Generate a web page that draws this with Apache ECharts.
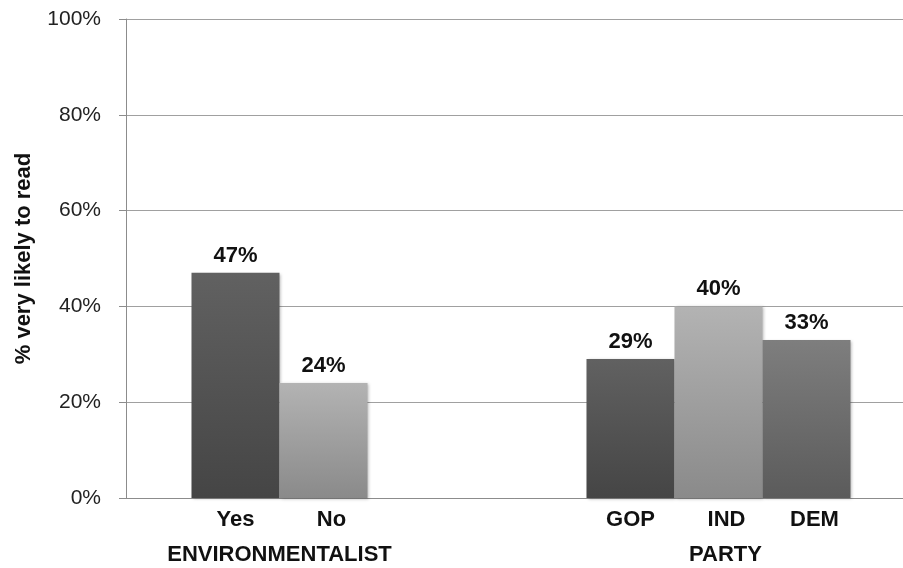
<!DOCTYPE html>
<html>
<head>
<meta charset="utf-8">
<script src="https://cdn.jsdelivr.net/npm/echarts@6/dist/echarts.min.js"></script>
<style>
  html, body { margin: 0; padding: 0; background: #ffffff; }
  #chart { width: 903px; height: 568px; }
</style>
</head>
<body>
<div id="chart"></div>
<script>
// Groups along the category axis
const groups = ['ENVIRONMENTALIST', 'PARTY'];

// Three bar slots per group; the first group uses only two of them
const darkValues  = [47, 29];
const lightValues = [24, 40];
const midValues   = [null, 33];

// Sub-category names shown under each bar
const darkNames  = ['Yes', 'GOP'];
const lightNames = ['No', 'IND'];
const midNames   = ['', 'DEM'];

// Y axis ticks
const yTicks = [0, 20, 40, 60, 80, 100];

const FONT = '"Liberation Sans", Arial, Helvetica, sans-serif';

function grad(top, bottom) {
  return new echarts.graphic.LinearGradient(0, 0, 0, 1, [
    { offset: 0, color: top },
    { offset: 1, color: bottom }
  ]);
}

const BAR_W = 88;

function barSeries(name, values, top, bottom) {
  return {
    name: name,
    type: 'bar',
    xAxisIndex: 0,
    barWidth: BAR_W,
    barGap: '0%',
    data: values,
    itemStyle: {
      color: grad(top, bottom),
      shadowColor: 'rgba(0,0,0,0.28)',
      shadowBlur: 3,
      shadowOffsetX: 1,
      shadowOffsetY: 1
    },
    label: {
      show: true,
      position: 'top',
      distance: 6,
      formatter: p => p.value + '%',
      fontFamily: FONT,
      fontWeight: 'bold',
      fontSize: 22,
      color: '#111'
    },
    emphasis: { disabled: true }
  };
}

// Transparent twin bars on a hidden axis, carrying the sub-category names
function nameSeries(values, names, dx) {
  return {
    type: 'bar',
    xAxisIndex: 1,
    barWidth: BAR_W,
    barGap: '0%',
    data: values,
    silent: true,
    itemStyle: { color: 'rgba(0,0,0,0)' },
    label: {
      show: true,
      position: 'bottom',
      distance: 11,
      offset: [dx, 0],
      formatter: p => names[p.dataIndex],
      fontFamily: FONT,
      fontWeight: 'bold',
      fontSize: 22,
      color: '#111'
    },
    emphasis: { disabled: true }
  };
}

const chart = echarts.init(document.getElementById('chart'), null, { renderer: 'canvas' });

chart.setOption({
  animation: false,
  backgroundColor: '#ffffff',
  grid: {
    left: 126, top: 19, bottom: 70, width: 790,
    containLabel: false,
    outerBoundsMode: 'none'
  },
  xAxis: [
    {
      type: 'category',
      data: groups,
      axisLine: { show: true, lineStyle: { color: '#8c8c8c', width: 1 } },
      axisTick: { show: false },
      axisLabel: {
        margin: 46,
        fontFamily: FONT,
        fontWeight: 'bold',
        fontSize: 22,
        color: '#111',
        formatter: v => v === 'ENVIRONMENTALIST' ? '{env|' + v + '}' : '{party|' + v + '}',
        rich: {
          env: { fontFamily: FONT, fontWeight: 'bold', fontSize: 22, color: '#111', padding: [0, 88, 0, 0] },
          party: { fontFamily: FONT, fontWeight: 'bold', fontSize: 22, color: '#111', padding: [0, 0, 0, 14] }
        }
      }
    },
    {
      type: 'category',
      data: groups,
      show: false
    }
  ],
  yAxis: {
    type: 'value',
    min: yTicks[0],
    max: yTicks[yTicks.length - 1],
    interval: 20,
    name: '% very likely to read',
    nameLocation: 'middle',
    nameRotate: 90,
    nameGap: 91,
    nameTextStyle: {
      fontFamily: FONT,
      fontWeight: 'bold',
      fontSize: 22,
      color: '#111'
    },
    axisLine: { show: true, lineStyle: { color: '#8c8c8c', width: 1 } },
    axisTick: { show: true, length: 7, lineStyle: { color: '#8c8c8c' } },
    axisLabel: {
      margin: 25,
      formatter: '{value}%',
      fontFamily: FONT,
      fontSize: 21,
      color: '#222'
    },
    splitLine: { show: true, lineStyle: { color: '#a0a0a0', width: 1 } }
  },
  series: [
    barSeries('dark', darkValues, '#616161', '#454545'),
    barSeries('light', lightValues, '#b3b3b3', '#8a8a8a'),
    barSeries('mid', midValues, '#7e7e7e', '#5b5b5b'),
    nameSeries(darkValues, darkNames, 0),
    nameSeries(lightValues, lightNames, 8),
    nameSeries(midValues, midNames, 8)
  ]
});
</script>
</body>
</html>
